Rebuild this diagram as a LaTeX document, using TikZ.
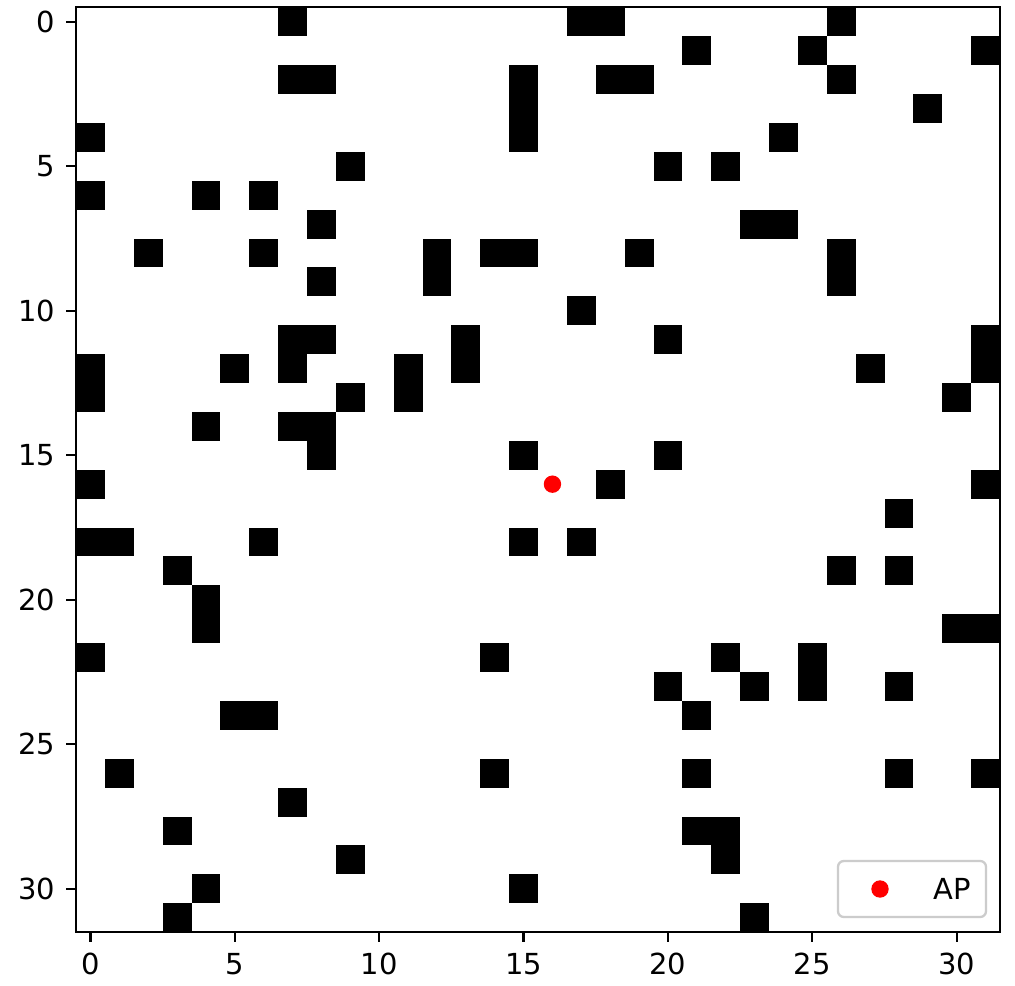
\documentclass[tikz,border=0pt]{standalone}
\usepackage{fontspec}
\setmainfont{DejaVu Sans}
\begin{document}
\begin{tikzpicture}[x=0.345pt,y=-0.345pt,
  obstacle/.style={fill=black},
  ticklabel/.style={inner sep=0pt,font=\fontsize{10}{12}\selectfont},
  tickline/.style={line width=0.8pt},
  spine/.style={line width=0.8pt,line cap=rect},
  apdot/.style={circle,fill=red,inner sep=0pt,minimum size=6pt}]
\useasboundingbox[fill=white] (0,0) rectangle (1015,986);
\begin{scope}[shift={(76,7.3)},x=9.962pt,y=-9.971pt]
  % obstacles (row / columns)
  \foreach \r/\cs in {0/{7,17,18,26},1/{21,25,31},2/{7,8,15,18,19,26},3/{15,29},
    4/{0,15,24},5/{9,20,22},6/{0,4,6},7/{8,23,24},8/{2,6,12,14,15,19,26},
    9/{8,12,26},10/{17},11/{7,8,13,20,31},12/{0,5,7,11,13,27,31},13/{0,9,11,30},
    14/{4,7,8},15/{8,15,20},16/{0,18,31},17/{28},18/{0,1,6,15,17},19/{3,26,28},
    20/{4},21/{4,30,31},22/{0,14,22,25},23/{20,23,25,28},24/{5,6,21},
    26/{1,14,21,28,31},27/{7},28/{3,21,22},29/{9,22},30/{4,15},31/{3,23}}{
    \foreach \c in \cs {\fill[obstacle] (\c,\r) rectangle ++(1,1);}
  }
  % AP marker
  \node[apdot] (ap) at (16.5,16.5) {};
  % frame
  \coordinate (tl) at (0,0);
  \coordinate (br) at (32,32);
  \draw[spine] (tl) rectangle (br);
  % x ticks
  \foreach \v in {0,5,10,15,20,25,30}{
    \coordinate (xt\v) at (\v+0.5,32);
    \draw[tickline] (xt\v) -- ++(0,-3.5pt);
    \node[ticklabel,anchor=north] (xl\v) at ([yshift=-7pt]xt\v) {\v};
  }
  % y ticks
  \foreach \v in {0,5,10,15,20,25,30}{
    \coordinate (yt\v) at (0,\v+0.5);
    \draw[tickline] (yt\v) -- ++(-3.5pt,0);
    \node[ticklabel,anchor=east] (yl\v) at ([xshift=-7pt]yt\v) {\v};
  }
\end{scope}
% legend
\draw[line width=0.8pt,draw=black!20,fill=white,rounded corners=2pt] (838,861) rectangle (986,917);
\node[apdot] (legdot) at (880,889) {};
\node[ticklabel,anchor=west] (legtext) at (933,889) {AP};
\end{tikzpicture}
\end{document}
